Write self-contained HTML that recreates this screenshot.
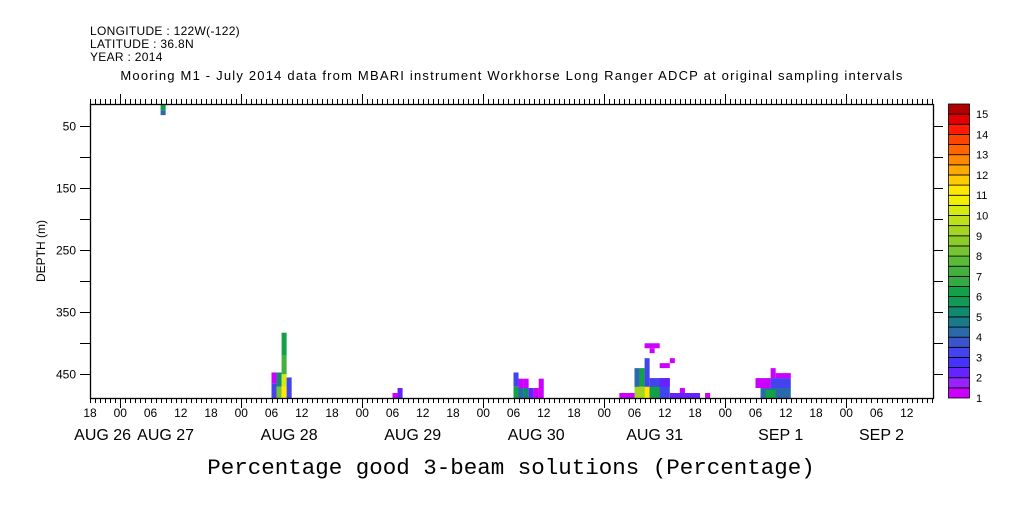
<!DOCTYPE html>
<html><head><meta charset="utf-8"><style>
body{margin:0;background:#fff;}
svg text{font-family:"Liberation Sans",sans-serif;fill:#000;}
</style></head><body>
<svg id="c" width="1009" height="504" xmlns="http://www.w3.org/2000/svg">
<text x="90" y="35" font-size="12" letter-spacing="0.3">LONGITUDE : 122W(-122)</text>
<text x="90" y="48" font-size="12" letter-spacing="0.3">LATITUDE : 36.8N</text>
<text x="90" y="61" font-size="12" letter-spacing="0.3">YEAR : 2014</text>
<text x="512" y="80" font-size="13" letter-spacing="1.2" text-anchor="middle">Mooring M1 - July 2014 data from MBARI instrument Workhorse Long Ranger ADCP at original sampling intervals</text>
<text x="511" y="474" font-size="22.5" text-anchor="middle" style="font-family:'Liberation Mono',monospace">Percentage good 3-beam solutions (Percentage)</text>
<text transform="translate(45,251) rotate(-90)" font-size="12" text-anchor="middle">DEPTH (m)</text>
<g id="cells"></g>
<g id="axes"></g>
<g id="cbar"></g>
</svg>
<script>
// hours since AUG 26 18:00, depth in m
const cellT0 = [14,14, 36,36,37,37,38,38,38,38,39, 60,61, 84,84,85,85,86,86,87,88,89, 105,108,109,108,110,110,111,111,113,115,117,122,110,111,113,115, 132,133,135,135,136,134];
const cellT1 = [15,15, 37,37,38,38,39,39,39,39,40, 61,62, 85,85,86,86,87,87,88,89,90, 108,109,110,110,111,111,115,113,115,121,118,123,113,112,115,116, 135,139,139,136,139,136];
const cellD0 = [15,25, 447,465,447,470,383,420,450,470,455, 480,472, 447,470,457,472,457,472,472,472,457, 480,440,440,470,424,470,456,470,456,480,472,480,400,408,432,424, 456,472,456,440,448,475];
const cellD1 = [25,33, 465,490,470,490,420,450,470,490,490, 490,490, 470,490,490,490,472,490,490,490,490, 490,490,470,490,490,490,490,490,470,490,480,490,408,416,440,432, 472,490,472,456,456,490];
const cellVal = [6,4, 1,3,5,8,6,7,10,11,3, 1,2, 3,6,1,4,1,5,2,1,1, 1,4,6,9,3,11,3,6,2,2,1,1,1,1,1,1, 1,4,3,1,1,6];
const palette = ["#cc00ff","#9922ff","#6622ff","#4433ff","#4444ee","#3a55cc","#2a6aaa","#1a7a8a","#118870","#119955","#12a048","#33aa44","#44b040","#5bbb38","#77c433","#8ccc2a","#a5d422","#bde01a","#d5ea10","#f0f000","#ffe800","#ffcc00","#ffaa00","#ff8800","#ff6600","#ff4400","#ff1a00","#e00000","#b00000"];
const xTickLabels = ["18","00","06","12","18","00","06","12","18","00","06","12","18","00","06","12","18","00","06","12","18","00","06","12","18","00","06","12"];
const dateLabels = ["AUG 26","AUG 27","AUG 28","AUG 29","AUG 30","AUG 31","SEP  1","SEP  2"];
const dateHours = [2.5,15,39.5,64,88.5,112,137,157];
const yTicks = [50,100,150,200,250,300,350,400,450];
const yLabels = ["50","","150","","250","","350","","450"];
const cbLabels = [1,2,3,4,5,6,7,8,9,10,11,12,13,14,15];

const NS="http://www.w3.org/2000/svg";
const L=90,R=933,T=104,B=398;
const xs=h=>L+h*121/24;
const ys=d=>125.7+(d-50)*0.6216;
function mk(tag,attrs,parent){const e=document.createElementNS(NS,tag);for(const k in attrs)e.setAttribute(k,attrs[k]);parent.appendChild(e);return e;}
const cells=document.getElementById('cells'),axes=document.getElementById('axes'),cb=document.getElementById('cbar');
for(let i=0;i<cellVal.length;i++){
  const idx=Math.max(0,Math.min(28,Math.round((cellVal[i]-1)*2)));
  const r=mk('rect',{x:xs(cellT0[i]),y:ys(cellD0[i]),width:xs(cellT1[i])-xs(cellT0[i]),height:Math.min(B,ys(cellD1[i]))-ys(cellD0[i]),fill:palette[idx]},cells);
  
  
}
const fr=mk('rect',{x:L+0.5,y:T+0.5,width:R-L,height:B-T,fill:'none',stroke:'#000','stroke-width':1.3},axes);


const totalH=(R-L)*24/121;
for(let h=0;h<=totalH;h++){
  const x=Math.round(xs(h))+0.5;const hr=(18+h)%24;const major=hr===0;const len=major?10:5;
  mk('line',{x1:x,x2:x,y1:B,y2:B+len,stroke:'#000'},axes);
  mk('line',{x1:x,x2:x,y1:T,y2:T-len,stroke:'#000'},axes);
}
xTickLabels.forEach((s,i)=>{
  const t=mk('text',{x:xs(i*6),y:B+19,'font-size':12,'text-anchor':'middle'},axes);t.textContent=s;
  
  
});
dateLabels.forEach((s,i)=>{
  const t=mk('text',{x:xs(dateHours[i]),y:B+42,'font-size':16,'text-anchor':'middle','xml:space':'preserve'},axes);t.textContent=s;
  
  
});
yTicks.forEach((d,i)=>{
  const y=Math.round(ys(d))+0.5;
  mk('line',{x1:L-10,x2:L,y1:y,y2:y,stroke:'#000'},axes);
  mk('line',{x1:R,x2:R+10,y1:y,y2:y,stroke:'#000'},axes);
  if(yLabels[i]){const t=mk('text',{x:L-14,y:y+4,'font-size':12,'text-anchor':'end'},axes);t.textContent=yLabels[i];
  
  }
});
const cbT=104,cbB=398,n=palette.length,ch=(cbB-cbT)/n;
palette.forEach((c,i)=>{
  const r=mk('rect',{x:948.5,y:cbB-(i+1)*ch,width:21,height:ch,fill:c,stroke:'#000','stroke-width':0.8},cb);
  
  
});
cbLabels.forEach(v=>{
  const y=cbB-(v-1)*2*ch;
  const t=mk('text',{x:976,y:y+4,'font-size':11},cb);t.textContent=v;
  
  
});
</script>
</body></html>
